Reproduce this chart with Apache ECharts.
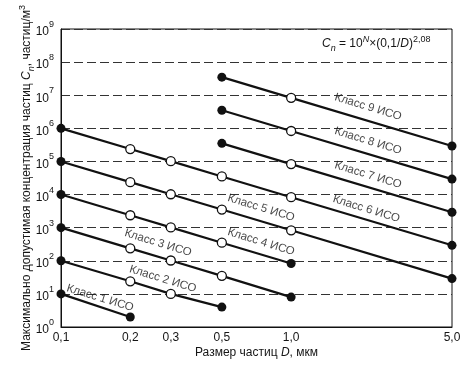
<!DOCTYPE html>
<html><head><meta charset="utf-8">
<script src="https://cdn.jsdelivr.net/npm/echarts@6/dist/echarts.min.js"></script>
<style>html,body{margin:0;padding:0;background:#fff}#c{width:470px;height:365px}</style>
</head><body><div id="c"></div>
<script>
// Tick values
const xTicks = [0.1, 0.2, 0.3, 0.5, 1.0, 5.0];
const yTicks = [1, 10, 100, 1e3, 1e4, 1e5, 1e6, 1e7, 1e8, 1e9];

// Particle sizes D (µm) and max concentrations (particles/m3) per ISO class
const class1Sizes = [0.1, 0.2];
const class1Conc  = [10, 2];
const class2Sizes = [0.1, 0.2, 0.3, 0.5];
const class2Conc  = [100, 24, 10, 4];
const class3Sizes = [0.1, 0.2, 0.3, 0.5, 1.0];
const class3Conc  = [1000, 237, 102, 35, 8];
const class4Sizes = [0.1, 0.2, 0.3, 0.5, 1.0];
const class4Conc  = [10000, 2370, 1020, 352, 83];
const class5Sizes = [0.1, 0.2, 0.3, 0.5, 1.0, 5.0];
const class5Conc  = [100000, 23700, 10200, 3520, 832, 29];
const class6Sizes = [0.1, 0.2, 0.3, 0.5, 1.0, 5.0];
const class6Conc  = [1000000, 237000, 102000, 35200, 8320, 293];
const class7Sizes = [0.5, 1.0, 5.0];
const class7Conc  = [352000, 83200, 2930];
const class8Sizes = [0.5, 1.0, 5.0];
const class8Conc  = [3520000, 832000, 29300];
const class9Sizes = [0.5, 1.0, 5.0];
const class9Conc  = [35200000, 8320000, 293000];

const classNames = ['Класс 1 ИСО','Класс 2 ИСО','Класс 3 ИСО','Класс 4 ИСО','Класс 5 ИСО',
                    'Класс 6 ИСО','Класс 7 ИСО','Класс 8 ИСО','Класс 9 ИСО'];
// Anchor (data space) of each class caption
const labelAnchorD = [0.148, 0.277, 0.264, 0.741, 0.741, 2.12, 2.16, 2.16, 2.16];
const labelAnchorC = [7.5, 28.2, 345, 371, 3960, 3670, 39000, 417000, 4.4e6];

const allSizes = [class1Sizes,class2Sizes,class3Sizes,class4Sizes,class5Sizes,class6Sizes,class7Sizes,class8Sizes,class9Sizes];
const allConc  = [class1Conc,class2Conc,class3Conc,class4Conc,class5Conc,class6Conc,class7Conc,class8Conc,class9Conc];

const INK = '#111';
const TXT = '#151515';
const FONT = '"Liberation Sans", Arial, sans-serif';

const series = allSizes.map((sizes, i) => {
  const conc = allConc[i];
  const last = sizes.length - 1;
  return {
    type: 'line',
    name: classNames[i],
    clip: false,
    showAllSymbol: true,
    symbol: 'circle',
    symbolSize: 9,
    lineStyle: {color: INK, width: 2.2},
    data: sizes.map((d, j) => ({
      value: [d, conc[j]],
      itemStyle: (j === 0 || j === last)
        ? {color: INK, borderWidth: 0}
        : {color: '#fff', borderColor: INK, borderWidth: 1.3}
    }))
  };
});

series.push({
  type: 'scatter',
  name: 'captions',
  symbolSize: 0,
  clip: false,
  silent: true,
  data: classNames.map((n, i) => ({name: n, value: [labelAnchorD[i], labelAnchorC[i]]})),
  label: {
    show: true, position: 'inside', formatter: '{b}', rotate: -17,
    color: TXT, fontSize: 11.5, fontFamily: FONT
  }
});

const chart = echarts.init(document.getElementById('c'), null, {renderer: 'canvas'});
chart.setOption({
  animation: false,
  backgroundColor: '#fff',
  textStyle: {fontFamily: FONT},
  grid: {left: 61, right: 18, top: 29, bottom: 38, show: true, borderColor: INK, borderWidth: 1, backgroundColor: 'transparent'},
  xAxis: {
    type: 'log', logBase: 10, min: 0.1, max: 5,
    axisLine: {lineStyle: {color: INK, width: 1}},
    axisTick: {show: false},
    splitLine: {show: false},
    minorTick: {show: false},
    axisLabel: {
      customValues: xTicks, color: TXT, fontSize: 12, margin: 5,
      formatter: v => Number(v).toFixed(1).replace('.', ',')
    },
    name: 'Размер частиц {i|D}, мкм',
    nameLocation: 'middle', nameGap: 20, nameMoveOverlap: false,
    nameTextStyle: {color: TXT, fontSize: 12, rich: {i: {fontStyle: 'italic', fontSize: 12, color: TXT}}}
  },
  yAxis: {
    type: 'log', logBase: 10, min: 1, max: 1e9,
    axisLine: {lineStyle: {color: INK, width: 1}},
    axisTick: {show: false},
    splitLine: {show: true, lineStyle: {type: [9, 4], color: '#333', width: 1}},
    axisLabel: {
      customValues: yTicks, color: TXT, fontSize: 12, margin: 7,
      formatter: v => '{b|10}{s|' + Math.round(Math.log10(v)) + '}',
      rich: {
        b: {fontSize: 12, lineHeight: 18, color: TXT, verticalAlign: 'bottom'},
        s: {fontSize: 9, lineHeight: 10, color: TXT, verticalAlign: 'top'}
      }
    },
    name: '{t|Максимально допустимая концентрация частиц }{i|C}{sub|n}{t|, частиц/м}{sup|3}',
    nameLocation: 'middle', nameGap: 25, nameRotate: 90, nameMoveOverlap: false,
    nameTextStyle: {
      color: TXT,
      rich: {
        t: {fontSize: 12, lineHeight: 18, color: TXT},
        i: {fontSize: 12, lineHeight: 18, fontStyle: 'italic', color: TXT},
        sub: {fontSize: 9, lineHeight: 9, fontStyle: 'italic', verticalAlign: 'bottom', color: TXT},
        sup: {fontSize: 9, lineHeight: 9, verticalAlign: 'top', color: TXT}
      }
    }
  },
  graphic: [{
    type: 'text', left: 322, top: 35, silent: true,
    style: {
      text: '{i|C}{sub|n}{t| = 10}{supi|N}{t|×(0,1/}{i|D}{t|)}{sup|2,08}',
      rich: {
        t: {fontSize: 12, lineHeight: 18, fill: TXT, fontFamily: FONT},
        i: {fontSize: 12, lineHeight: 18, fontStyle: 'italic', fill: TXT, fontFamily: FONT},
        sub: {fontSize: 9, lineHeight: 9, fontStyle: 'italic', verticalAlign: 'bottom', fill: TXT, fontFamily: FONT},
        supi: {fontSize: 9, lineHeight: 9, fontStyle: 'italic', verticalAlign: 'top', fill: TXT, fontFamily: FONT},
        sup: {fontSize: 9, lineHeight: 9, verticalAlign: 'top', fill: TXT, fontFamily: FONT}
      }
    }
  }],
  series: series
});
</script>
</body></html>
